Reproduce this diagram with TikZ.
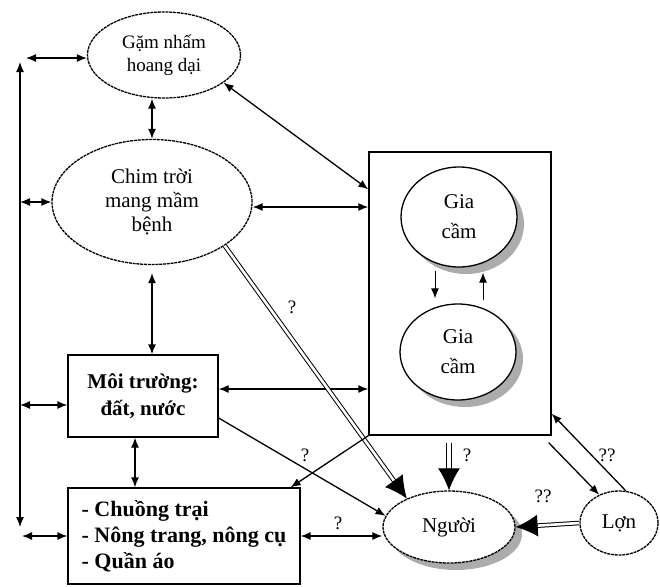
\documentclass[tikz,border=0pt]{standalone}
\usepackage{fontspec}
\setmainfont{Liberation Serif}
\usetikzlibrary{arrows.meta,shapes.geometric,shadows,calc}

\begin{document}
\begin{tikzpicture}[x=1pt,y=-1pt,line width=1.3pt,>={Latex[length=10pt,width=8pt]},
    oval/.style={draw,ellipse,inner sep=0pt,align=center,fill=white,dash pattern=on 3pt off 0.8pt},
    bird/.style={draw,ellipse,inner sep=0pt,align=center,fill=white,
      drop shadow={shadow xshift=7pt,shadow yshift=-7pt,fill=gray!65,opacity=1}},
    rbox/.style={draw,inner sep=0pt,align=center,font=\fontsize{21}{27}\selectfont\bfseries},
    dbl/.style={double,double distance=2.6pt,line width=1pt,shorten >=18pt},
    bighead/.style={-{Latex[length=22pt,width=22pt]},line width=1pt},
    small/.style={line width=1pt,shorten >=5pt,shorten <=3pt},
    qlab/.style={font=\fontsize{19}{19}\selectfont}]
    \useasboundingbox (0,0) rectangle (660,586);
    \node[oval,minimum width=153pt,minimum height=86pt,font=\fontsize{19}{23}\selectfont] (gam) at (164,55) {Gặm nhấm\\hoang dại};
    \node[oval,minimum width=200pt,minimum height=125pt,font=\fontsize{21}{24}\selectfont] (chim) at (152,202) {Chim trời\\mang mầm\\bệnh};
    \node[rbox,minimum width=150pt,minimum height=82pt] (moi) at (143,396) {Môi trường:\\đất, nước};
    \node[rbox,minimum width=232pt,minimum height=96pt,align=left,font=\fontsize{22}{26}\selectfont\bfseries] (chuong) at (184,536) {- Chuồng trại\\- Nông trang, nông cụ\\- Quần áo};
    \node[draw,minimum width=182pt,minimum height=283pt] (gia) at (460,293.5) {};
    \node[bird,minimum width=116pt,minimum height=100pt,font=\fontsize{21}{30}\selectfont] (gc1) at (459,217) {Gia\\cầm};
    \node[bird,minimum width=116pt,minimum height=96pt,font=\fontsize{21}{30}\selectfont] (gc2) at (458,352) {Gia\\cầm};
    \node[bird,oval,minimum width=132pt,minimum height=72pt,font=\fontsize{21}{21}\selectfont] (nguoi) at (449,527) {Người};
    \node[oval,minimum width=78pt,minimum height=64pt,font=\fontsize{21}{21}\selectfont] (lon) at (619,523) {Lợn};
    \coordinate (lt) at (20,62);
    \coordinate (lb) at (20,527);
    \draw[<->] (lb) -- (lt);
    \draw[<->] ([xshift=6pt,yshift=-3pt]lt |- gam.west) -- ([yshift=-3pt]gam.west);
    \draw[<->] (lt |- chim.west) -- (chim.west);
    \draw[<->] ([yshift=-9pt]lt |- moi.west) -- ([yshift=-9pt]moi.west);
    \draw[<->] ([xshift=2pt]lb |- chuong.west) -- (chuong.west);
    \draw[<->] (chim.north) -- (chim.north |- gam.south);
    \draw[<->,shorten <=8pt] (chim.south) -- (chim.south |- moi.north);
    \draw[<->] ([xshift=-8pt]moi.south) -- ([xshift=-8pt]moi.south |- chuong.north);
    \draw[<->] (gam.-25) -- ([yshift=-38pt]gia.north west);
    \draw[<->] ([yshift=-5pt]chim.east) -- ([yshift=-5pt]chim.east -| gia.west);
    \draw[<->] ([yshift=7pt]moi.east) -- ([yshift=7pt]moi.east -| gia.west);
    \draw[->,small] ([xshift=-24pt]gc1.south) -- ([xshift=-24pt]gc1.south |- gc2.north);
    \draw[->,small] ([xshift=25pt]gc2.north) -- ([xshift=25pt]gc2.north |- gc1.south);
    \draw[dbl] (chim.-31) -- (nguoi.146);
    \draw[bighead] ($(nguoi.146)!22pt!(chim.-31)$) -- (nguoi.146);
    \draw[->] ([yshift=-22pt]moi.east) -- (nguoi.170);
    \draw[->] (gia.south west) -- ([xshift=-10pt]chuong.north east);
    \draw[<->] (chuong.east) -- (chuong.east -| nguoi.west);
    \coordinate (gb) at ([yshift=-7pt]gia.south -| nguoi.north);
    \draw[dbl,double distance=3.4pt] (gb) -- (nguoi.north);
    \draw[bighead] ($(nguoi.north)!22pt!(gb)$) -- (nguoi.north);
    \draw[->] ([xshift=-3pt,yshift=-7pt]gia.south east) -- (lon.125);
    \draw[->] (lon.78) -- ([yshift=22pt]gia.south east);
    \draw[dbl] (lon.west) -- (nguoi.east);
    \draw[bighead] ($(nguoi.east)!22pt!(lon.west)$) -- (nguoi.east);
    \node[qlab] (q1) at (292,307) {?};
    \node[qlab] (q2) at (305,455) {?};
    \node[qlab] (q3) at (338,523) {?};
    \node[qlab] (q4) at (467,455) {?};
    \node[qlab] (q5) at (543,496) {??};
    \node[qlab] (q6) at (607,455) {??};
\end{tikzpicture}
\end{document}
